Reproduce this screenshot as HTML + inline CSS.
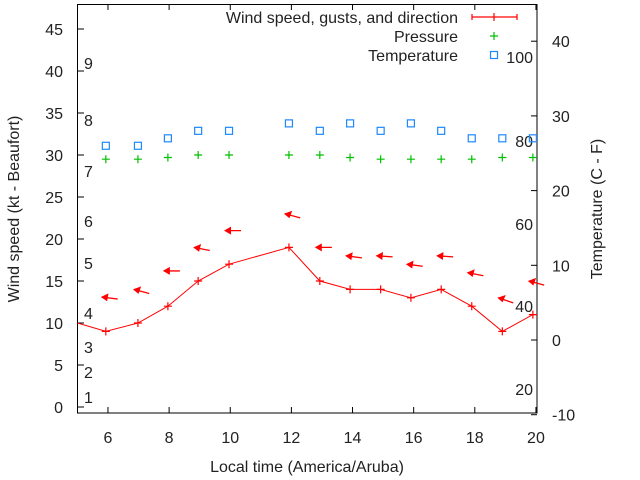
<!DOCTYPE html>
<html><head><meta charset="utf-8"><style>
body{margin:0;background:#fff}
svg{display:block;font-family:"Liberation Sans",sans-serif}
</style></head><body>
<svg width="640" height="480" viewBox="0 0 640 480">
<g id="axes"></g><g id="marks"></g><g id="legend"></g>
</svg>
<script>
const hours=[5.93,6.98,7.96,8.95,9.96,11.92,12.93,13.92,14.92,15.91,16.9,17.9,18.9,19.9];
const windSpeed=[9,10,12,15,17,19,15,14,14,13,14,12,9,11];
const gusts=[13.1,14,16.2,19,21,23,19,18,18,17,18,16,13,15];
const windDir=[100,110,90,105,90,110,90,100,95,100,95,105,115,110];
const pressure=[29.5,29.5,29.7,30,30,30,30,29.7,29.5,29.5,29.5,29.5,29.7,29.7];
const temperature=[26,26,27,28,28,29,28,29,28,29,28,27,27,27];
const xTicks=[6,8,10,12,14,16,18,20];
const yTicks=[0,5,10,15,20,25,30,35,40,45];
const y2Ticks=[-10,0,10,20,30,40];
const beaufort=[["1",397],["2",372],["3",347],["4",313],["5",263],["6",221],["7",171],["8",120],["9",63]];
const fahr=[["100",57],["80",141],["60",224],["40",306],["20",389]];
const NS="http://www.w3.org/2000/svg";
const FS=16;
const X=v=>77.4+(v-5)*30.57, Y=v=>407-v*8.4, Y2=v=>340-v*7.47;
function mk(p,t,a,txt){const e=document.createElementNS(NS,t);for(const k in a)e.setAttribute(k,a[k]);if(txt!=null)e.textContent=txt;p.appendChild(e);return e;}
const ax=document.getElementById('axes'),mg=document.getElementById('marks'),lg=document.getElementById('legend');
let r=mk(ax,'rect',{x:77.5,y:4.5,width:459.5,height:408.5,fill:'none',stroke:'#000'});


xTicks.forEach(t=>{const x=X(t);
 mk(ax,'line',{x1:x,x2:x,y1:413,y2:407,stroke:'#000'});
 mk(ax,'line',{x1:x,x2:x,y1:4,y2:10,stroke:'#000'});
 let e=mk(ax,'text',{x:x,y:443,'text-anchor':'middle','font-size':FS,fill:'#222'},t);
 
 });
yTicks.forEach(t=>{const y=Y(t);
 mk(ax,'line',{x1:78,x2:84,y1:y,y2:y,stroke:'#000'});
 let e=mk(ax,'text',{x:63,y:y+6,'text-anchor':'end','font-size':FS,fill:'#222'},t);
 
 });
y2Ticks.forEach(t=>{const y=Y2(t);
 mk(ax,'line',{x1:537,x2:531,y1:y,y2:y,stroke:'#000'});
 let e=mk(ax,'text',{x:552,y:y+6,'text-anchor':'start','font-size':FS,fill:'#222'},t);
 
 });
beaufort.forEach(b=>{let e=mk(ax,'text',{x:84,y:b[1]+6,'font-size':FS,fill:'#222'},b[0]);
 
 });
fahr.forEach(b=>{let e=mk(ax,'text',{x:533,y:b[1]+6,'text-anchor':'end','font-size':FS,fill:'#222'},b[0]);
 
 });
let e1=mk(ax,'text',{x:307,y:472,'text-anchor':'middle','font-size':FS,fill:'#222'},'Local time (America/Aruba)');


let e2=mk(ax,'text',{transform:'translate(19,209) rotate(-90)','text-anchor':'middle','font-size':FS,fill:'#222'},'Wind speed (kt - Beaufort)');


let e3=mk(ax,'text',{transform:'translate(602,209) rotate(-90)','text-anchor':'middle','font-size':FS,fill:'#222'},'Temperature (C - F)');


let pts=[[77.5,Y(10)]].concat(hours.map((h,i)=>[X(h),Y(windSpeed[i])]));
pts.push([537,Y(11)]);
let pl=mk(mg,'polyline',{points:pts.map(p=>p.join(',')).join(' '),fill:'none',stroke:'#f00','stroke-width':1});


function plus(g,x,y,c){mk(g,'path',{d:`M${x-4} ${y}h8M${x} ${y-4}v8`,stroke:c,'stroke-width':1.2});}
hours.forEach((h,i)=>{
 const x=X(h);
 const g=mk(mg,'g',{});
 
 
 plus(g,x,Y(windSpeed[i]),'#f00');
 const ay=Y(gusts[i]), a=(windDir[i]-90)*Math.PI/180;
 const dx=Math.cos(a), dy=Math.sin(a);
 const tx=x+12*dx, ty=ay+12*dy;
 const ar=mk(mg,'g',{});
 
 
 mk(ar,'line',{x1:x-4,y1:ay,x2:tx,y2:ty,stroke:'#f00','stroke-width':1.3});
 const px=-dy,py=dx;
 mk(ar,'polygon',{points:`${x-5},${ay} ${x+2*dx+4*px},${ay+2*dy+4*py} ${x+2*dx-4*px},${ay+2*dy-4*py}`,fill:'#f00'});
 const pg=mk(mg,'g',{});
 
 
 plus(pg,x,Y(pressure[i]),'#00c000');
 const sq=mk(mg,'rect',{x:x-3.5,y:Y2(temperature[i])-3.5,width:7,height:7,fill:'none',stroke:'#1e88ff','stroke-width':1.2});
 
 
});
const L=[['Wind speed, gusts, and direction',17],['Pressure',36],['Temperature',55]];
L.forEach((l,i)=>{let t=mk(lg,'text',{x:458,y:l[1]+6,'text-anchor':'end','font-size':FS,fill:'#222'},l[0]);
 
 });
mk(lg,'path',{d:'M472 17H517M472 14v6M517 14v6M494 13v8',stroke:'#f00','stroke-width':1.2,fill:'none'});
plus(lg,494,36,'#00c000');
mk(lg,'rect',{x:490.5,y:51.5,width:7,height:7,fill:'none',stroke:'#1e88ff','stroke-width':1.2});
</script>
</body></html>
